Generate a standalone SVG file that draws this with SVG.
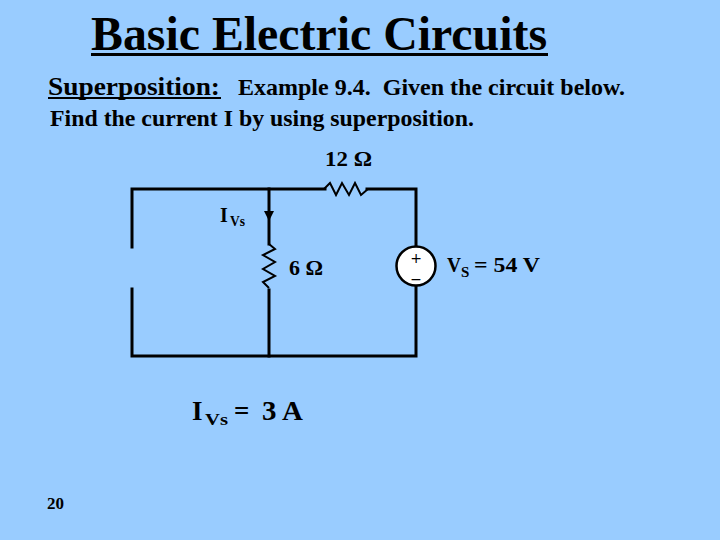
<svg xmlns="http://www.w3.org/2000/svg" width="720" height="540" viewBox="0 0 720 540">
<style>
.bg{fill:#99CCFF}
.wire{stroke:#000;stroke-width:3;fill:none;stroke-linecap:square}
.res{stroke:#000;stroke-width:2;fill:none;stroke-linejoin:miter}
.t{font-family:"Liberation Serif","Times New Roman",serif;font-weight:bold;fill:#000}
.s{font-family:"DejaVu Sans","Liberation Sans",sans-serif;fill:#000}
</style>
<rect class="bg" x="0" y="0" width="720" height="540"/>

<g id="title">
<text class="t" x="91" y="50" font-size="48" textLength="456" lengthAdjust="spacingAndGlyphs">Basic Electric Circuits</text>
<rect x="91" y="53" width="457" height="3" fill="#000"/>
</g>

<g id="problem-text">
<text class="t" x="48" y="95" font-size="26" textLength="172" lengthAdjust="spacingAndGlyphs">Superposition:</text>
<rect x="48" y="97" width="173" height="2" fill="#000"/>
<text class="t" x="238" y="95" font-size="23" textLength="387" lengthAdjust="spacingAndGlyphs" xml:space="preserve">Example 9.4.  Given the circuit below.</text>
<text class="t" x="50" y="126" font-size="23" textLength="424" lengthAdjust="spacingAndGlyphs">Find the current I by using superposition.</text>
</g>

<g id="connectors">
<polyline class="wire" points="325,189 132,189 132,247"/>
<polyline class="wire" points="132,289 132,356 416,356 416,286"/>
<polyline class="wire" points="367,189 416,189 416,247"/>
<line class="wire" x1="269" y1="189" x2="269" y2="244"/>
<line class="wire" x1="269" y1="290" x2="269" y2="356"/>
</g>

<g id="R12">
<polyline class="res" points="324,189 330,183 336,195 342,183 349,195 355,183 361,195 368,189"/>
<text class="t" x="325" y="166" font-size="21" textLength="47" lengthAdjust="spacingAndGlyphs">12 Ω</text>
</g>

<g id="R6">
<polyline class="res" points="269,244 275,249 263,255 275,262 263,269 275,276 263,282 269,288"/>
<text class="t" x="289" y="275" font-size="21" textLength="34" lengthAdjust="spacingAndGlyphs">6 Ω</text>
</g>

<g id="Ivs-arrow">
<polygon points="264,211 274,211 269,221" fill="#000"/>
<text class="t" x="220" y="222" font-size="20">I</text>
<text class="t" x="230" y="226" font-size="14" textLength="15" lengthAdjust="spacingAndGlyphs">Vs</text>
</g>

<g id="Vs">
<circle cx="416" cy="266" r="19.5" fill="#fff" stroke="#000" stroke-width="2.5"/>
<text class="s" x="416" y="263" font-size="14" text-anchor="middle">+</text>
<text class="s" x="416" y="284" font-size="14" text-anchor="middle">−</text>
<text class="t" x="447" y="272" font-size="21" textLength="14" lengthAdjust="spacingAndGlyphs">V</text>
<text class="t" x="461" y="277" font-size="15">S</text>
<text class="t" x="474" y="272" font-size="21" textLength="66" lengthAdjust="spacingAndGlyphs" xml:space="preserve">= 54 V</text>
</g>

<g id="result">
<text class="t" x="192" y="420" font-size="27">I</text>
<text class="t" x="205" y="425" font-size="17" textLength="23" lengthAdjust="spacingAndGlyphs">Vs</text>
<text class="t" x="234" y="420" font-size="27">=</text>
<text class="t" x="262" y="420" font-size="27" textLength="41" lengthAdjust="spacingAndGlyphs">3 A</text>
</g>

<g id="page-number">
<text class="t" x="47" y="509" font-size="17" fill="#000033">20</text>
</g>
</svg>
